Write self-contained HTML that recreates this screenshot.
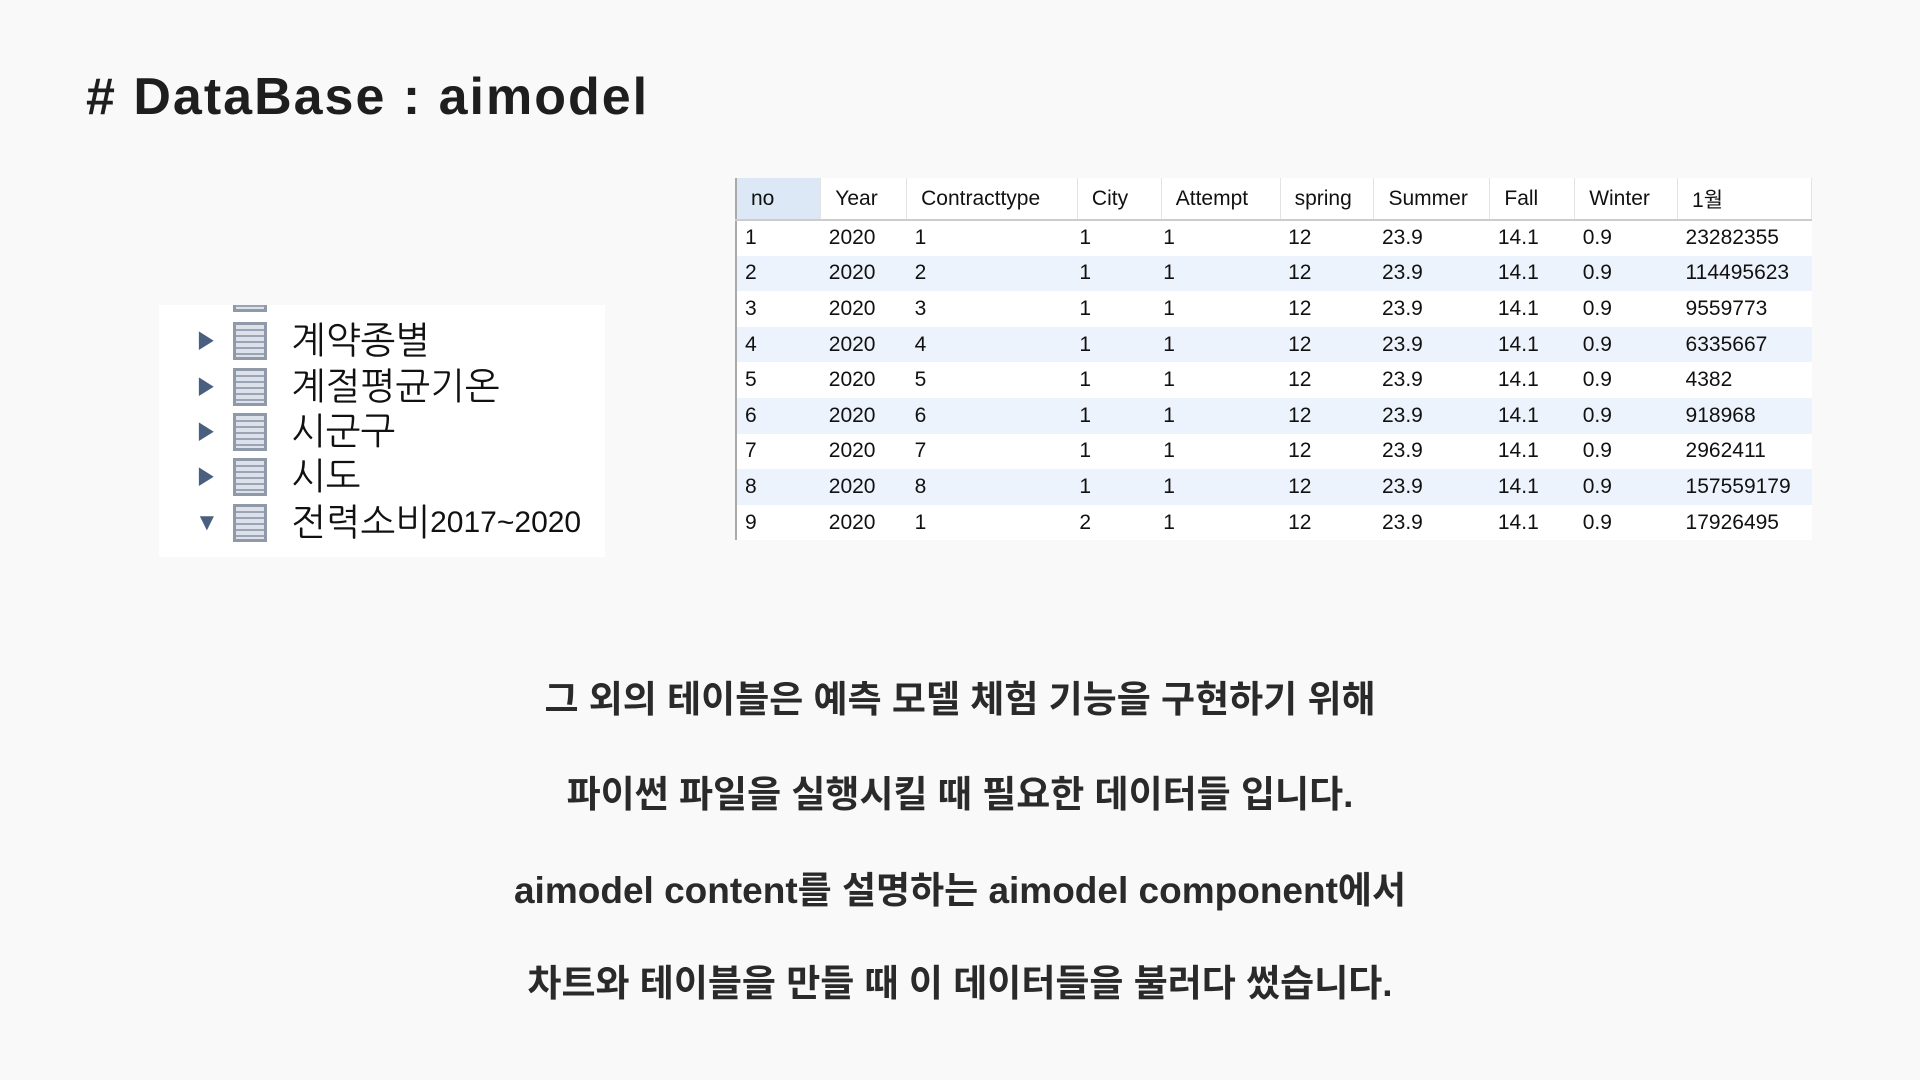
<!DOCTYPE html>
<html><head><meta charset="utf-8"><style>
body{margin:0;width:1920px;height:1080px;background:#f9f9f9;position:relative;overflow:hidden;font-family:"Liberation Sans","Noto Sans CJK KR",sans-serif;color:#222}
#title{position:absolute;left:86px;top:67px;font-size:52px;font-weight:bold;letter-spacing:2px;color:#1e1e1e}
#tree{position:absolute;left:159px;top:305px;width:446px;height:252px;background:#fff;overflow:hidden}
.tr{position:absolute;left:36px;height:44px;display:flex;align-items:center;font-family:"Liberation Sans","NanumGothic",sans-serif;font-size:37px;color:#111}
.arr{width:24px;color:#4a5f80;font-size:24px}
.ico{width:34px;height:38px;margin:0 24px 0 14px;background:repeating-linear-gradient(#dde2ea 0 4px,#9aa4b4 4px 6px);border:3px solid #8f99a8;box-sizing:border-box}
#tbl{position:absolute;left:735px;top:178px;width:1077px;border-collapse:collapse;font-family:"Liberation Sans",sans-serif;font-size:21px;color:#111;background:#fff;border-left:2px solid #aaa}
#tbl th{height:41px;padding:0 0 0 14px;font-weight:normal;text-align:left;border-right:1px solid #e3e3e3;border-bottom:2px solid #ccc}
#tbl td{height:35.6px;padding:0 0 0 8px;box-sizing:border-box}
#tb tr:nth-child(even) td{background:#edf3fc}
.p{position:absolute;left:0;width:1920px;text-align:center;font-size:37px;font-weight:bold;color:#2a2a2a}
</style></head><body>
<div id="title"># DataBase : aimodel</div>
<div id="tree">
<div class="tr" style="top:-34px"><span class="arr">▶</span><span class="ico"></span>...</div>
<div class="tr" style="top:14px"><span class="arr">▶</span><span class="ico"></span>계약종별</div>
<div class="tr" style="top:60px"><span class="arr">▶</span><span class="ico"></span>계절평균기온</div>
<div class="tr" style="top:105px"><span class="arr">▶</span><span class="ico"></span>시군구</div>
<div class="tr" style="top:150px"><span class="arr">▶</span><span class="ico"></span>시도</div>
<div class="tr" style="top:196px"><span class="arr">▼</span><span class="ico"></span>전력소비<span style="font-size:30px">2017~2020</span></div>
</div>
<table id="tbl">
<colgroup><col style="width:85px"><col style="width:86px"><col style="width:171px"><col style="width:84px"><col style="width:119px"><col style="width:94px"><col style="width:116px"><col style="width:85px"><col style="width:103px"><col style="width:134px"></colgroup>
<thead><tr><th style="background:#dde8f6">no</th><th>Year</th><th>Contracttype</th><th>City</th><th>Attempt</th><th>spring</th><th>Summer</th><th>Fall</th><th>Winter</th><th>1월</th></tr></thead>
<tbody id="tb"></tbody>
</table>
<div class="p" style="top:669px">그 외의 테이블은 예측 모델 체험 기능을 구현하기 위해</div>
<div class="p" style="top:764px">파이썬 파일을 실행시킬 때 필요한 데이터들 입니다.</div>
<div class="p" style="top:860px">aimodel content를 설명하는 aimodel component에서</div>
<div class="p" style="top:953px">차트와 테이블을 만들 때 이 데이터들을 불러다 썼습니다.</div>
<script>
const contract=[1,2,3,4,5,6,7,8,1];
const city=[1,1,1,1,1,1,1,1,2];
const jan=[23282355,114495623,9559773,6335667,4382,918968,2962411,157559179,17926495];
const tb=document.getElementById('tb');
for(let i=0;i<9;i++){
const tr=document.createElement('tr');


const vals=[i+1,2020,contract[i],city[i],1,12,'23.9','14.1','0.9',jan[i]];
vals.forEach((v,j)=>{const td=document.createElement('td');td.textContent=v;
if(j==3||j==4)td.style.paddingLeft='2px';
tr.appendChild(td);});
tb.appendChild(tr);}
</script>
</body></html>
